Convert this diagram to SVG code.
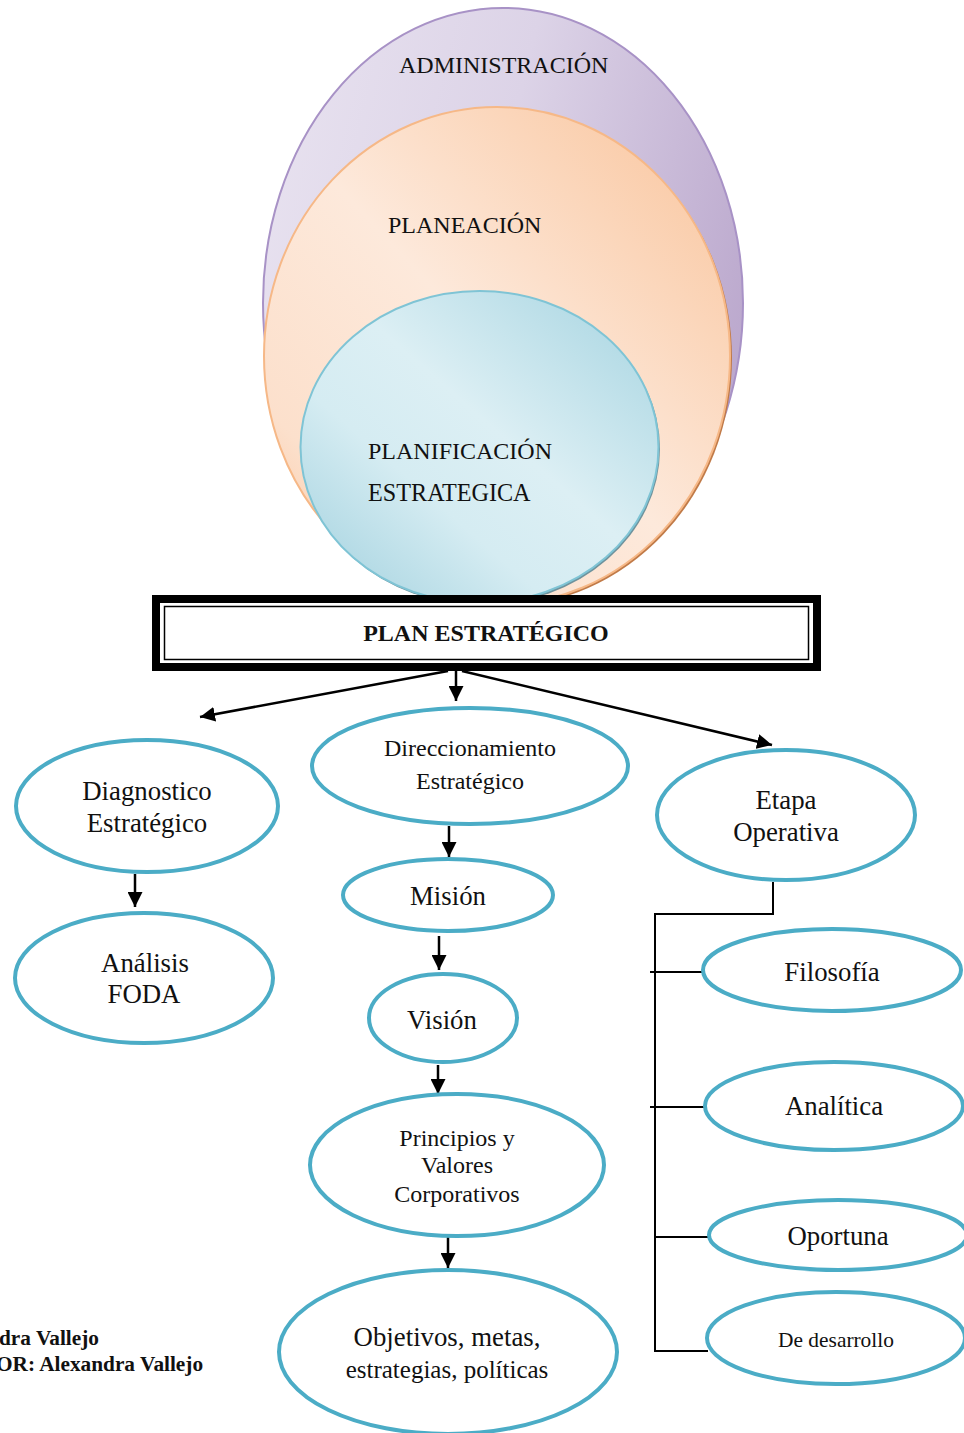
<svg xmlns="http://www.w3.org/2000/svg" width="964" height="1433" viewBox="0 0 964 1433">
  <defs>
    <linearGradient id="gPurple" x1="0" y1="0.3" x2="1" y2="0.6">
      <stop offset="0" stop-color="#E7E1EF"/>
      <stop offset="0.45" stop-color="#DCD3E7"/>
      <stop offset="1" stop-color="#BBA8CD"/>
    </linearGradient>
    <linearGradient id="gOrange" x1="1" y1="0" x2="0" y2="1">
      <stop offset="0" stop-color="#F9C39A"/>
      <stop offset="0.5" stop-color="#FDE9DB"/>
      <stop offset="0.8" stop-color="#FCE0CC"/>
      <stop offset="1" stop-color="#F8C29A"/>
    </linearGradient>
    <linearGradient id="gBlue" x1="1" y1="0" x2="0" y2="1">
      <stop offset="0" stop-color="#A4D3E0"/>
      <stop offset="0.45" stop-color="#DCEFF4"/>
      <stop offset="0.65" stop-color="#D5ECF2"/>
      <stop offset="1" stop-color="#9ECFDD"/>
    </linearGradient>
    <marker id="arrow" viewBox="0 0 10 10" refX="10" refY="5" markerWidth="6" markerHeight="6" orient="auto" markerUnits="strokeWidth">
      <path d="M0,0 L10,5 L0,10 z" fill="#000"/>
    </marker>
    <style>
      .serif { font-family: "Liberation Serif", "Times New Roman", serif; fill: #111; }
      .node { fill: #fff; stroke: #4BACC6; stroke-width: 4; }
      .lbl { font-family: "Liberation Serif", "Times New Roman", serif; text-anchor: middle; fill: #111; }
      .big { font-size: 26.8px; }
      .mid { font-size: 24px; }
      .arrow { stroke: #000; stroke-width: 2.5; fill: none; marker-end: url(#arrow); }
      .tree { stroke: #000; stroke-width: 2; fill: none; }
    </style>
  </defs>

  <!-- nested sets: administration > planning > strategic planning -->
  <g id="administracion">
    <ellipse cx="503" cy="303" rx="240" ry="295" fill="url(#gPurple)" stroke="#A892C6" stroke-width="2"/>
    <text class="serif" x="399" y="73" font-size="24">ADMINISTRACIÓN</text>
  </g>
  <g id="planeacion">
    <ellipse cx="499" cy="358" rx="233" ry="249" fill="#C07A48"/>
    <ellipse cx="497" cy="356" rx="233" ry="249" fill="url(#gOrange)" stroke="#F6B887" stroke-width="2"/>
    <text class="serif" x="388" y="233" font-size="24">PLANEACIÓN</text>
  </g>
  <g id="planificacion">
    <ellipse cx="481" cy="449" rx="179" ry="156" fill="#6F929C"/>
    <ellipse cx="479.5" cy="447" rx="179" ry="156" fill="url(#gBlue)" stroke="#7FC4D5" stroke-width="2"/>
    <text class="serif" x="368" y="459" font-size="24">PLANIFICACIÓN</text>
    <text class="serif" x="368" y="501" font-size="24.2">ESTRATEGICA</text>
  </g>

  <!-- title box -->
  <g id="plan">
    <rect x="156" y="599" width="661" height="68" fill="#fff" stroke="#000" stroke-width="8"/>
    <rect x="164.5" y="606.5" width="644" height="53" fill="none" stroke="#000" stroke-width="1.5"/>
    <text class="serif" x="486" y="641" font-size="24" font-weight="bold" text-anchor="middle">PLAN ESTRATÉGICO</text>
  </g>

  <!-- connectors -->
  <g id="connectors">
    <line class="arrow" x1="448" y1="671" x2="200" y2="717"/>
    <line class="arrow" x1="456" y1="671" x2="456" y2="701"/>
    <line class="arrow" x1="462" y1="671" x2="772" y2="745"/>
    <line class="arrow" x1="135" y1="874" x2="135" y2="907"/>
    <line class="arrow" x1="449" y1="826" x2="449" y2="857"/>
    <line class="arrow" x1="439" y1="936" x2="439" y2="970"/>
    <line class="arrow" x1="438" y1="1065" x2="438" y2="1094"/>
    <line class="arrow" x1="448" y1="1237" x2="448" y2="1268"/>
    <path class="tree" d="M773,882 V914 H655 V1351 H708"/>
    <line class="tree" x1="650" y1="972" x2="702" y2="972"/>
    <line class="tree" x1="650" y1="1107" x2="704" y2="1107"/>
    <line class="tree" x1="655" y1="1237" x2="708" y2="1237"/>
  </g>

  <g id="diagnostico">
    <ellipse class="node" cx="147" cy="806" rx="131" ry="66"/>
    <text class="lbl big" x="147" y="800">Diagnostico</text>
    <text class="lbl big" x="147" y="832">Estratégico</text>
  </g>
  <g id="foda">
    <ellipse class="node" cx="144" cy="978" rx="129" ry="65"/>
    <text class="lbl big" x="145" y="972">Análisis</text>
    <text class="lbl big" x="144" y="1003">FODA</text>
  </g>

  <g id="direccionamiento">
    <ellipse class="node" cx="470" cy="766" rx="158" ry="58"/>
    <text class="lbl mid" x="470" y="756">Direccionamiento</text>
    <text class="lbl mid" x="470" y="789">Estratégico</text>
  </g>
  <g id="mision">
    <ellipse class="node" cx="448" cy="895" rx="105" ry="36"/>
    <text class="lbl big" x="448" y="905">Misión</text>
  </g>
  <g id="vision">
    <ellipse class="node" cx="443" cy="1018" rx="74" ry="44"/>
    <text class="lbl big" x="442" y="1029">Visión</text>
  </g>
  <g id="principios">
    <ellipse class="node" cx="457" cy="1165" rx="147" ry="71"/>
    <text class="lbl mid" x="457" y="1146">Principios y</text>
    <text class="lbl mid" x="457" y="1173">Valores</text>
    <text class="lbl mid" x="457" y="1202">Corporativos</text>
  </g>
  <g id="objetivos">
    <ellipse class="node" cx="448" cy="1352" rx="169" ry="82"/>
    <text class="lbl big" x="447" y="1346">Objetivos, metas,</text>
    <text class="lbl" x="447" y="1378" style="font-size:25px">estrategias, políticas</text>
  </g>

  <g id="etapa">
    <ellipse class="node" cx="786" cy="815" rx="129" ry="65"/>
    <text class="lbl big" x="786" y="809">Etapa</text>
    <text class="lbl big" x="786" y="841">Operativa</text>
  </g>
  <g id="filosofia">
    <ellipse class="node" cx="832" cy="970" rx="129" ry="41"/>
    <text class="lbl big" x="832" y="981">Filosofía</text>
  </g>
  <g id="analitica">
    <ellipse class="node" cx="834" cy="1106" rx="129" ry="44"/>
    <text class="lbl big" x="834" y="1115">Analítica</text>
  </g>
  <g id="oportuna">
    <ellipse class="node" cx="838" cy="1235" rx="129" ry="35"/>
    <text class="lbl big" x="838" y="1245">Oportuna</text>
  </g>
  <g id="desarrollo">
    <ellipse class="node" cx="836" cy="1338" rx="129" ry="46"/>
    <text class="lbl" x="836" y="1347" style="font-size:21.4px">De desarrollo</text>
  </g>

  <!-- author credit, running off the left edge of the page -->
  <g id="credito" class="serif" font-size="21.3" font-weight="bold">
    <text x="-1" y="1345">dra Vallejo</text>
    <text x="-4" y="1371">OR: Alexandra Vallejo</text>
  </g>
</svg>
